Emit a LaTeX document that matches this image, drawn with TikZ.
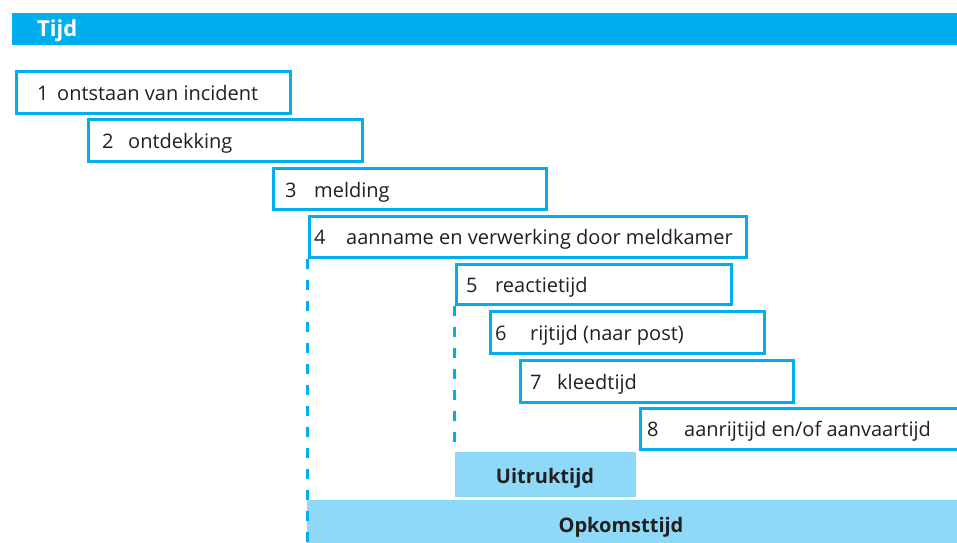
\documentclass[tikz,border=0pt]{standalone}
\usepackage{fontspec}
\setmainfont{Open Sans}
\definecolor{cyanA}{HTML}{00AEEF}
\definecolor{cyanL}{HTML}{8ED8F8}
\definecolor{txt}{HTML}{231F20}
\tikzset{
  stepbox/.style={draw=cyanA, line width=3pt, anchor=north west, inner sep=0pt, fill=white},
  lab/.style={anchor=base west, inner sep=0pt, font=\fontsize{20}{22}\selectfont, text=txt},
  bandbox/.style={fill=cyanL, anchor=north west, inner sep=0pt},
  bandlab/.style={anchor=base, font=\bfseries\fontsize{20}{22}\selectfont, text=txt, inner sep=0pt},
  dashline/.style={draw=cyanA, line width=2.8pt, dash pattern=on 10pt off 11pt}
}
\begin{document}
\begin{tikzpicture}[x=1pt,y=-1pt]
\useasboundingbox (0,0) rectangle (957,542);
\clip (0,0) rectangle (957,542);
\fill[white] (0,0) rectangle (957,542);
% header
\node[fill=cyanA, anchor=north west, inner sep=0pt, minimum width=960pt, minimum height=32pt] (hdr) at (12,13) {};
\node[anchor=base west, inner sep=0pt, text=white, font=\bfseries\fontsize{22}{24}\selectfont] (hdrt) at (37,36) {Tijd};
% bands
\node[bandbox, minimum width=660pt, minimum height=50pt] (opk) at (307,500) {};
\node[bandlab] (opkt) at (621,532) {Opkomsttijd};
\node[bandbox, minimum width=181pt, minimum height=45pt] (uit) at (455,452) {};
\node[bandlab] (uitt) at (545,483) {Uitruktijd};
% boxes
\node[stepbox, minimum width=274pt, minimum height=42pt] (b1) at (14.5,69.5) {};
\node[stepbox, minimum width=274pt, minimum height=42pt] (b2) at (86.5,117.5) {};
\node[stepbox, minimum width=273pt, minimum height=41pt] (b3) at (271.5,166.5) {};
\node[stepbox, minimum width=437pt, minimum height=41pt] (b4) at (307.5,214.5) {};
\node[stepbox, minimum width=275pt, minimum height=40pt] (b5) at (454.5,262.5) {};
\node[stepbox, minimum width=274pt, minimum height=42pt] (b6) at (488.5,309.5) {};
\node[stepbox, minimum width=273pt, minimum height=42pt] (b7) at (518.5,358.5) {};
\node[stepbox, minimum width=340pt, minimum height=41pt] (b8) at (638.5,406.5) {};
% labels
\node[lab] (n1) at (37,100) {1};   \node[lab] (t1) at (57,100) {ontstaan van incident};
\node[lab] (n2) at (102,148) {2}; \node[lab] (t2) at (128,148) {ontdekking};
\node[lab] (n3) at (285,197) {3}; \node[lab] (t3) at (314,197) {melding};
\node[lab] (n4) at (314,244) {4}; \node[lab] (t4) at (346,244) {aanname en verwerking door meldkamer};
\node[lab] (n5) at (466,292) {5}; \node[lab] (t5) at (495,292) {reactietijd};
\node[lab] (n6) at (495,340) {6}; \node[lab] (t6) at (530,340) {rijtijd (naar post)};
\node[lab] (n7) at (530,389) {7}; \node[lab] (t7) at (557,389) {kleedtijd};
\node[lab] (n8) at (647,436) {8}; \node[lab] (t8) at (684,436) {aanrijtijd en/of aanvaartijd};
% dashed lines
\coordinate (d1) at (307.5,545);
\draw[dashline] (b4.south west) -- (d1);
\draw[dashline] (b5.south west) -- (uit.north west -| b5.south west);
\end{tikzpicture}
\end{document}
